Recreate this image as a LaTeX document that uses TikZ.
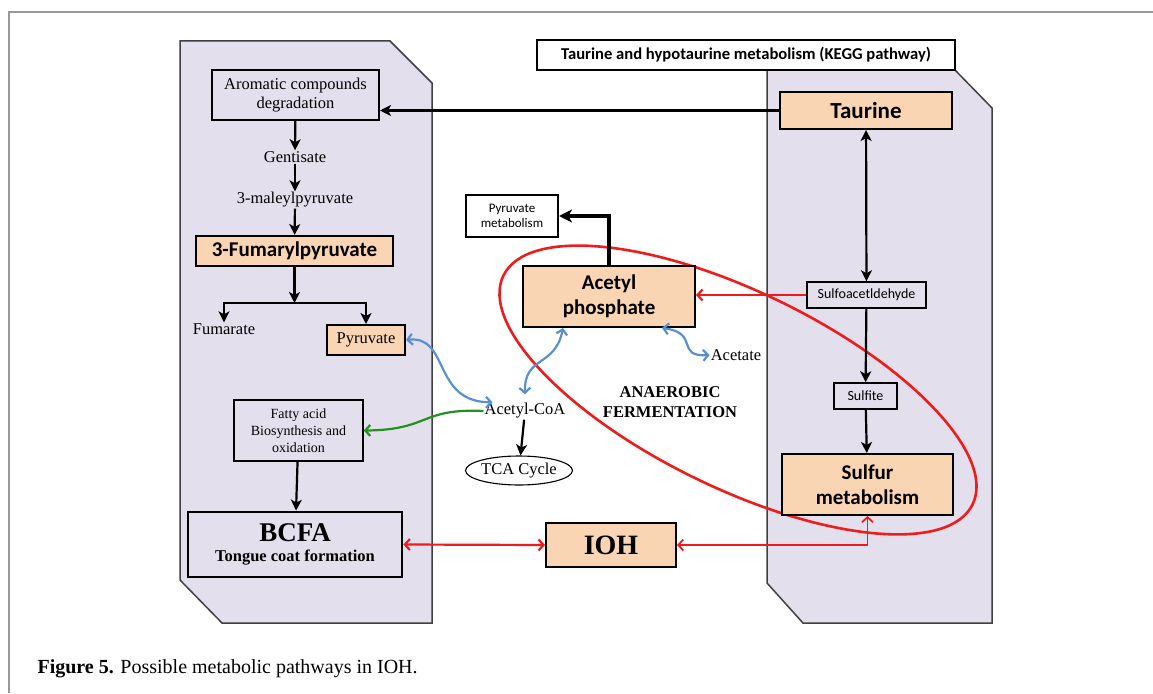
\documentclass[tikz,border=0pt]{standalone}
\usepackage{fontspec}
\setmainfont{Liberation Serif}
\newfontfamily\calibri{Carlito}
\usepackage{tikz}
\usetikzlibrary{arrows.meta,shapes,positioning}

\definecolor{panelfill}{HTML}{E4DFEC}
\definecolor{peach}{HTML}{F9D5B4}
\definecolor{wavyblue}{HTML}{5A8FD0}
\definecolor{fagreen}{HTML}{23901F}
\definecolor{ohred}{HTML}{EE1C1C}

\begin{document}
\begin{tikzpicture}[x=1pt, y=-1pt,
		panel/.style    = {draw=black!75, line width=1.5pt, fill=panelfill},
		basic/.style    = {draw, line width=2pt, rectangle, align=center, inner sep=0pt},
		whitebox/.style = {basic, fill=white},
		peachbox/.style = {basic, fill=peach},
		serif/.style    = {font=\fontsize{16.5}{19}\selectfont, align=center, inner sep=1pt},
		calb/.style     = {font=\calibri\bfseries\fontsize{21}{25}\selectfont},
		flow/.style     = {-{Stealth[length=11pt,width=11pt,inset=3pt]}, line width=2.2pt},
		twoway/.style   = {{Stealth[length=11pt,width=11pt,inset=3pt]}-{Stealth[length=11pt,width=11pt,inset=3pt]}, line width=2.2pt},
		wavy/.style     = {{Straight Barb[length=5pt,width=11pt]}-{Straight Barb[length=5pt,width=11pt]}, draw=wavyblue, line width=2.2pt},
		redlink/.style  = {draw=ohred, line width=2.2pt},
		barb/.tip       = {Straight Barb[length=5pt,width=11pt]}]
		
		\useasboundingbox (0,0) rectangle (1153,693);
		
		% page frame and the two pathway panels
		\draw[black!40, line width=1.4pt] (9,693) -- (9,12) -- (1153,12);
		\draw[panel] (180,41) -- (390,41) -- (432,83) -- (432,623) -- (222,623) -- (180,580) -- cycle;
		\draw[panel] (767,70) -- (955,70) -- (992,108) -- (992,623) -- (803,623) -- (767,583) -- cycle;
		
		% anaerobic fermentation loop
		\draw[ohred, line width=2.6pt, rotate around={-26:(738,390)}] (738,390) ellipse [x radius=261pt, y radius=98pt];
		
		\node[whitebox, minimum width=418, minimum height=30, font=\calibri\bfseries\fontsize{16.6}{19}\selectfont] (kegg) at (746,55) {Taurine and hypotaurine metabolism (KEGG pathway)};
		
		% left panel
		\node[basic, serif, minimum width=167, minimum height=50] (arom) at (295.5,95) {Aromatic compounds\\degradation};
		\node[serif] (gent) at (295,157) {Gentisate};
		\node[serif] (maley) at (295,200) {3-maleylpyruvate};
		\node[peachbox, calb, minimum width=197, minimum height=30] (fumar) at (294.5,251) {3-Fumarylpyruvate};
		\coordinate (split) at (294.5,303);
		\node[serif] (fum) at (224,329) {Fumarate};
		\node[peachbox, serif, minimum width=78, minimum height=30] (pyr) at (366,340) {Pyruvate};
		\node[basic, line width=1.5pt, minimum width=129, minimum height=61, font=\fontsize{14}{17}\selectfont] (fatty) at (298.5,430.5) {Fatty acid\\Biosynthesis and\\oxidation};
		\node[basic, line width=2.8pt, minimum width=214, minimum height=65, font=\bfseries\fontsize{16.5}{20}\selectfont] (bcfa) at (295,544.5) {{\fontsize{27}{30}\selectfont BCFA}\\Tongue coat formation};
		
		% middle
		\node[whitebox, minimum width=92, minimum height=42, font=\calibri\fontsize{13}{15}\selectfont] (pyrmet) at (512,216) {Pyruvate\\metabolism};
		\node[peachbox, calb, minimum width=172, minimum height=61] (acph) at (609,296.5) {Acetyl\\phosphate};
		\node[serif] (acetate) at (736,355) {Acetate};
		\node[serif] (acoa) at (525,411) {Acetyl-CoA};
		\node[draw, ellipse, line width=1.1pt, minimum width=92, minimum height=29, serif, inner sep=0pt] (tca) at (519,470.5) {TCA Cycle};
		\node[serif, font=\bfseries\fontsize{16.5}{20}\selectfont] (anaer) at (670,402) {ANAEROBIC\\FERMENTATION};
		\node[peachbox, minimum width=130, minimum height=44, font=\bfseries\fontsize{28}{30}\selectfont] (ioh) at (611,545) {IOH};
		
		% right panel
		\node[peachbox, minimum width=172, minimum height=37, font=\calibri\bfseries\fontsize{23}{26}\selectfont] (taurine) at (866,110.5) {Taurine};
		\node[basic, line width=1.5pt, minimum width=119, minimum height=26, font=\calibri\fontsize{14}{16}\selectfont] (sulfo) at (866.5,295) {Sulfoacetldehyde};
		\node[basic, line width=1.5pt, minimum width=63, minimum height=26, font=\calibri\fontsize{14}{16}\selectfont] (sulfite) at (865.5,396) {Sulfite};
		\node[peachbox, calb, minimum width=171, minimum height=61] (sulfur) at (867.5,484.5) {Sulfur\\metabolism};
		
		% black reaction arrows
		\draw[flow] (arom) -- (gent);
		\draw[flow] (gent) -- (maley);
		\draw[flow] (maley) -- (fumar);
		\draw[flow] (fumar) -- (split);
		\draw[flow] (split) -| (fum.north);
		\draw[flow] (split) -| (pyr.north);
		\draw[flow] (fatty) -- (bcfa);
		\draw[flow] (taurine.west) -- (taurine.west -| arom.east);
		\draw[twoway] (taurine) -- (sulfo);
		\draw[flow] (sulfo) -- (sulfite);
		\draw[flow] (sulfite) -- (sulfur);
		\draw[-{Stealth[length=13pt,width=13pt,inset=3.5pt]}, line width=3.4pt] (acph.north) |- (pyrmet.east);
		\draw[flow] (acoa) -- (tca);
		
		% blue exchanges
		\draw[wavy] (pyr.east) .. controls (450,335) and (432,402) .. (acoa.165);
		\draw[wavy] ([xshift=-46pt]acph.south) .. controls (555,368) and (524,355) .. ([yshift=8pt]acoa.north);
		\draw[wavy] ([xshift=53pt]acph.south) .. controls (700,333) and (675,357) .. (acetate.west);
		
		% green and red links
		\draw[-barb, fagreen, line width=2.2pt] (acoa.west) .. controls (420,408) and (430,430) .. (fatty.east);
		\draw[redlink, -barb] (sulfo.west) -- (sulfo.west -| acph.east);
		\draw[redlink, barb-barb] (bcfa.east) -- (ioh.west);
		\draw[redlink, barb-barb, line width=1.8pt] (sulfur.south) |- (ioh.east);
		
		\node[anchor=base west, font=\fontsize{20}{24}\selectfont] (caption) at (34,673) {\textbf{Figure 5.} Possible metabolic pathways in IOH.};
		
	\end{tikzpicture}
\end{document}
